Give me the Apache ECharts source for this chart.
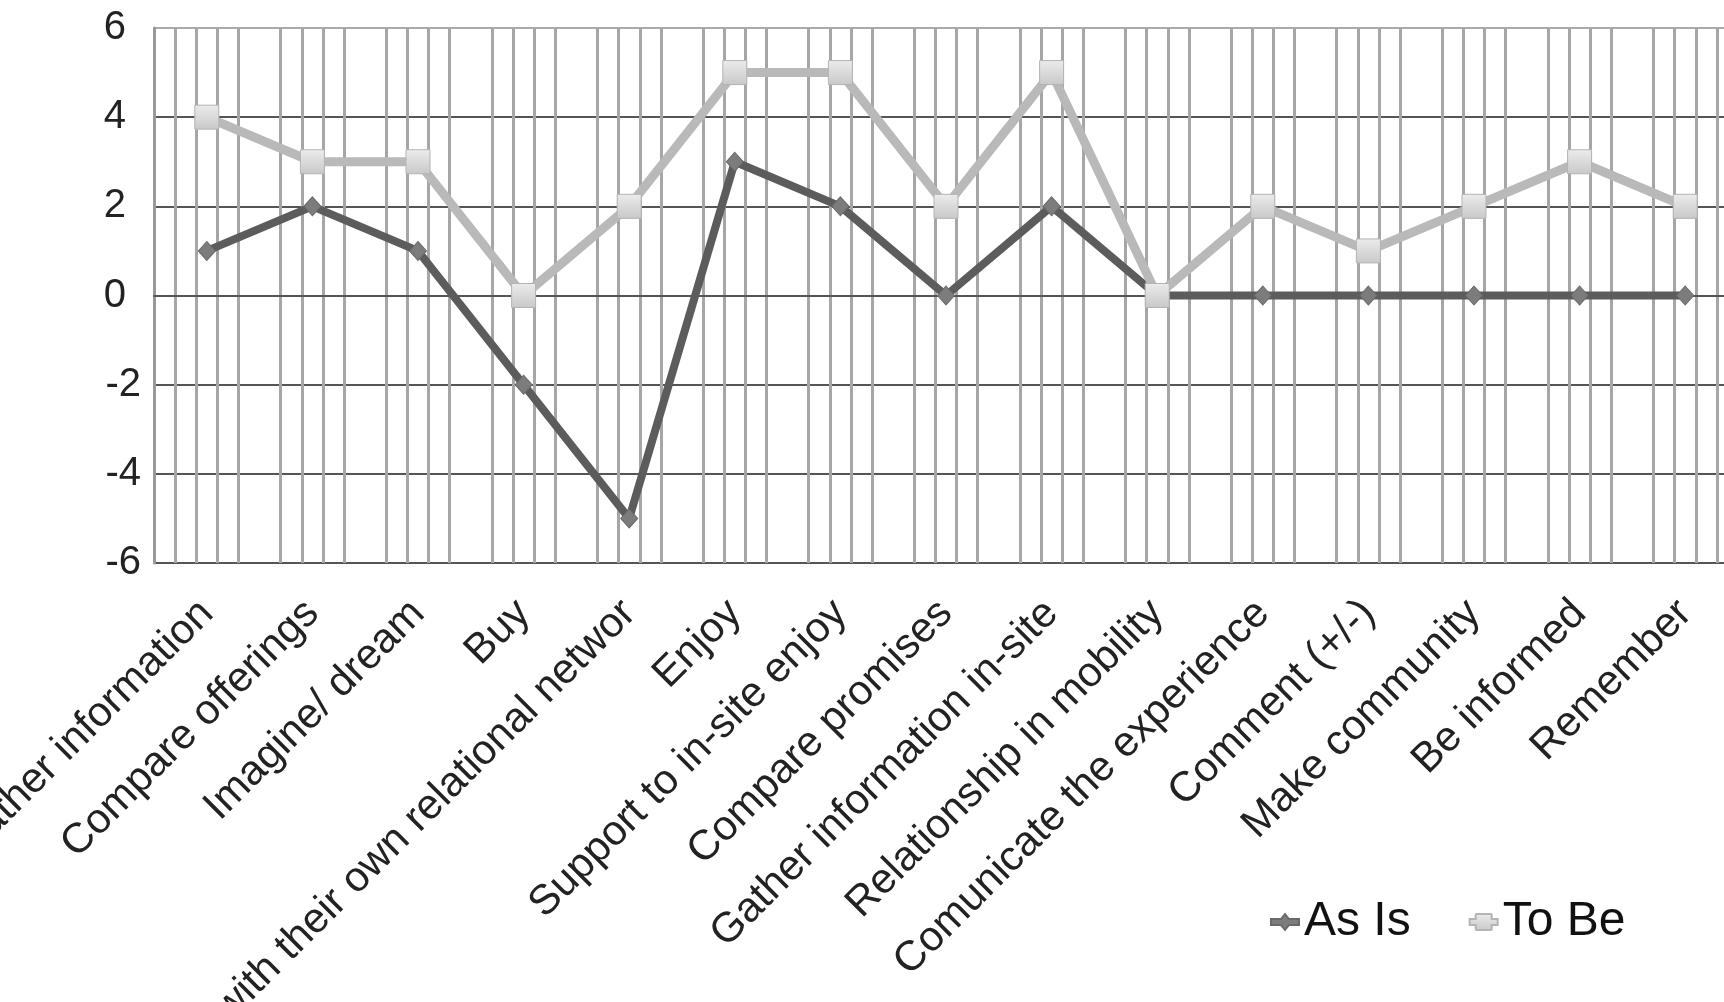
<!DOCTYPE html>
<html>
<head>
<meta charset="utf-8">
<script src="https://cdn.jsdelivr.net/npm/echarts@6/dist/echarts.min.js"></script>
<style>
html,body{margin:0;padding:0;background:#fff;}
#chart{width:1724px;height:1002px;}
</style>
</head>
<body>
<div id="chart"></div>
<script>
var categories = [
  "Gather information",
  "Compare offerings",
  "Imagine/ dream",
  "Buy",
  "with their own relational networ",
  "Enjoy",
  "Support to in-site enjoy",
  "Compare promises",
  "Gather information in-site",
  "Relationship in mobility",
  "Comunicate the experience",
  "Comment (+/-)",
  "Make community",
  "Be informed",
  "Remember"
];
var asIs = [1, 2, 1, -2, -5, 3, 2, 0, 2, 0, 0, 0, 0, 0, 0];
var toBe = [4, 3, 3, 0, 2, 5, 5, 2, 5, 0, 2, 1, 2, 3, 2];
var seriesNames = ["As Is", "To Be"];
var yMin = -6, yMax = 6, yStep = 2;
var minorPerCategory = 5;

var chart = echarts.init(document.getElementById('chart'), null, {renderer: 'canvas'});
var font = '"Liberation Sans", Arial, sans-serif';
var vColor = '#a6a6a6';
var vColors = ['rgba(0,0,0,0)'];
for (var i = 1; i < minorPerCategory; i++) vColors.push(vColor);

var option = {
  backgroundColor: '#ffffff',
  animation: false,
  grid: {left: 154, top: 28, right: -14, bottom: 439, containLabel: false, outerBoundsMode: 'none'},
  legend: {
    data: [
      {name: seriesNames[0], icon: 'path://M0,5 L10,5 L14,0 L18,5 L28,5 L28,11 L18,11 L14,16 L10,11 L0,11 Z'},
      {name: seriesNames[1], icon: 'path://M0,5 L6,5 L6,1 Q6,0 7,0 L21,0 Q22,0 22,1 L22,5 L28,5 L28,11 L22,11 L22,15 Q22,16 21,16 L7,16 Q6,16 6,15 L6,11 L0,11 Z'}
    ],
    left: 1265, top: 893,
    itemWidth: 28, itemHeight: 16, itemGap: 58,
    textStyle: {fontFamily: font, fontSize: 48, color: '#111'}
  },
  xAxis: [
    {
      type: 'category',
      data: categories,
      boundaryGap: true,
      axisLine: {show: true, lineStyle: {color: '#555', width: 2}},
      axisTick: {show: false},
      splitLine: {show: false},
      axisLabel: {interval: 0, rotate: 45, margin: 44, fontFamily: font, fontSize: 42, color: '#222'}
    },
    {
      type: 'value',
      position: 'top',
      min: 0,
      max: categories.length * minorPerCategory,
      interval: 1,
      axisLine: {show: false},
      axisTick: {show: false},
      axisLabel: {show: false},
      splitLine: {show: true, lineStyle: {color: vColors, width: 3}}
    }
  ],
  yAxis: {
    type: 'value',
    min: yMin, max: yMax, interval: yStep,
    axisLine: {show: true, lineStyle: {color: '#999', width: 3}},
    axisTick: {show: false},
    splitLine: {show: true, lineStyle: {color: ['#555', '#555', '#555', '#555', '#555', '#555', '#aaa'], width: 2}},
    axisLabel: {
      margin: 13,
      fontFamily: font, fontSize: 40, color: '#222',
      formatter: function (v) { return v < 0 ? '{n|' + v + '}' : '{p|' + v + '}'; },
      rich: {
        n: {fontFamily: font, fontSize: 40, color: '#222'},
        p: {fontFamily: font, fontSize: 40, color: '#222', padding: [0, 15, 0, 0]}
      }
    }
  },
  series: [
    {
      name: seriesNames[0],
      type: 'line',
      data: asIs,
      xAxisIndex: 0,
      symbol: 'diamond',
      symbolSize: [17, 19],
      lineStyle: {color: '#5c5c5c', width: 8},
      itemStyle: {color: '#7c7c7c', borderColor: '#6a6a6a', borderWidth: 1},
      z: 3
    },
    {
      name: seriesNames[1],
      type: 'line',
      data: toBe,
      xAxisIndex: 0,
      symbol: 'rect',
      symbolSize: 24,
      lineStyle: {color: '#b9b9b9', width: 9},
      itemStyle: {
        color: new echarts.graphic.LinearGradient(0, 0, 0, 1, [
          {offset: 0, color: '#ececec'}, {offset: 1, color: '#c8c8c8'}
        ]),
        borderColor: '#b4b4b4', borderWidth: 1
      },
      z: 4
    }
  ]
};
chart.setOption(option);
</script>
</body>
</html>
